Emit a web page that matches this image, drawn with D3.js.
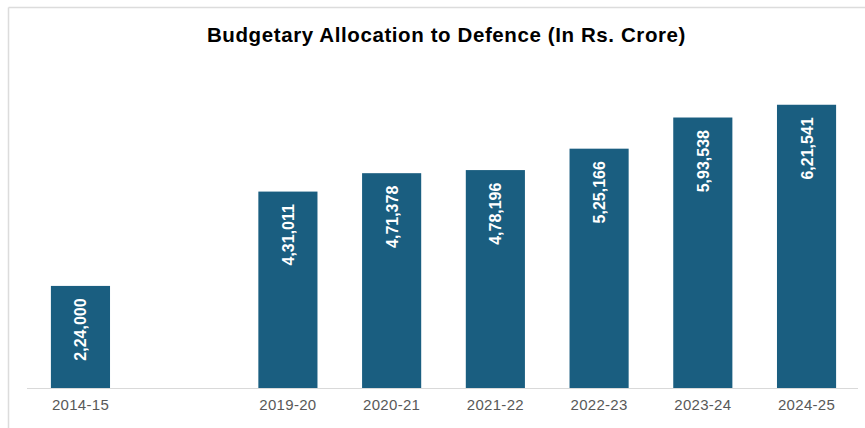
<!DOCTYPE html>
<html>
<head>
<meta charset="utf-8">
<script src="https://cdn.jsdelivr.net/npm/d3@7"></script>
<style>
  html, body { margin: 0; padding: 0; background: #ffffff; }
  svg { display: block; }
</style>
</head>
<body>
<svg id="chart" width="865" height="428"></svg>
<script>
// Fiscal years; the blank slot keeps the gap between 2014-15 and 2019-20
const years = ["2014-15", "", "2019-20", "2020-21", "2021-22", "2022-23", "2023-24", "2024-25"];
const allocation = [224000, null, 431011, 471378, 478196, 525166, 593538, 621541];
const valueLabels = ["2,24,000", "", "4,31,011", "4,71,378", "4,78,196", "5,25,166", "5,93,538", "6,21,541"];
const chartTitle = "Budgetary Allocation to Defence (In Rs. Crore)";

const svg = d3.select("#chart");
const W = 865, H = 428;
const font = "'Liberation Sans', Arial, sans-serif";

// Frame lines (top and left edge of the card)
svg.append("line").attr("x1", 8.5).attr("x2", 865).attr("y1", 7.5).attr("y2", 7.5)
  .attr("stroke", "#dcdcdc").attr("stroke-width", 1.5);
svg.append("line").attr("x1", 8.5).attr("x2", 8.5).attr("y1", 7.5).attr("y2", H)
  .attr("stroke", "#dcdcdc").attr("stroke-width", 1.5);

// Title
svg.append("text")
  .attr("x", 446.5).attr("y", 41.5)
  .attr("text-anchor", "middle")
  .attr("font-family", font).attr("font-weight", "bold").attr("font-size", 20.5)
  .attr("letter-spacing", 0.6)
  .attr("fill", "#000")
  .text(chartTitle);

const x = d3.scaleBand()
  .domain(d3.range(years.length))
  .range([28.6, 858.4])
  .paddingInner(0.43)
  .paddingOuter(0.215);

const y = d3.scaleLinear().domain([0, 700000]).range([388, 69]);

const data = years.map((yr, i) => ({ i, yr, v: allocation[i], label: valueLabels[i] }));

// Bars
svg.append("g").selectAll("rect")
  .data(data.filter(d => d.v != null))
  .join("rect")
  .attr("x", d => x(d.i))
  .attr("width", x.bandwidth())
  .attr("y", d => y(d.v))
  .attr("height", d => y(0) - y(d.v))
  .attr("fill", "#1a5e80");

// Value labels, rotated inside the top of each bar
svg.append("g").selectAll("text")
  .data(data.filter(d => d.v != null))
  .join("text")
  .attr("transform", d => `translate(${x(d.i) + x.bandwidth() / 2 + 6},${y(d.v) + 12.5}) rotate(-90)`)
  .attr("text-anchor", "end")
  .attr("font-family", font).attr("font-weight", "bold").attr("font-size", 16)
  .attr("fill", "#ffffff")
  .text(d => d.label);

// Category axis
const axis = d3.axisBottom(x).tickSize(0).tickPadding(0).tickFormat(i => years[i]);
const gx = svg.append("g").attr("transform", "translate(0,388)").call(axis);
gx.select(".domain").attr("d", "M27,0.5H858").attr("stroke", "#d9d9d9").attr("stroke-width", 1.2);
gx.selectAll(".tick text")
  .attr("y", 22)
  .attr("dy", 0)
  .attr("font-family", font).attr("font-size", 15)
  .attr("letter-spacing", 0.3)
  .attr("fill", "#595959");
</script>
</body>
</html>
